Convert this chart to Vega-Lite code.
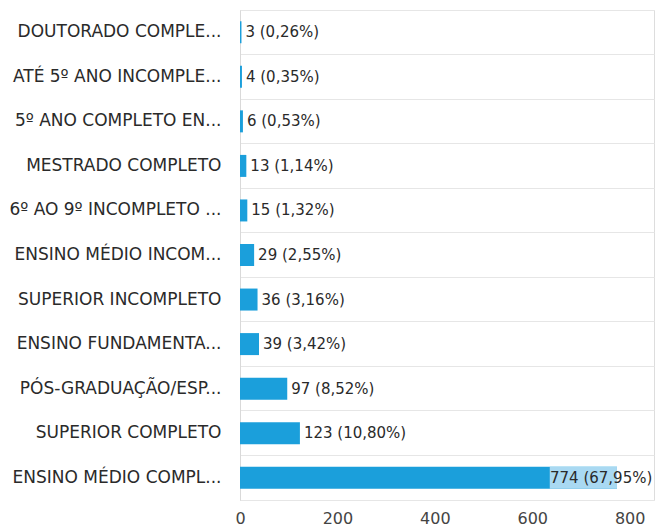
{
  "$schema": "https://vega.github.io/schema/vega-lite/v6.json",
  "autosize": "none",
  "width": 414,
  "height": 490,
  "padding": {"left": 240, "top": 10, "right": 7, "bottom": 31},
  "background": "white",
  "data": {
    "values": [
      {"cat": "DOUTORADO COMPLE...", "value": 3, "label": "3 (0,26%)"},
      {"cat": "ATÉ 5º ANO INCOMPLE...", "value": 4, "label": "4 (0,35%)"},
      {"cat": "5º ANO COMPLETO EN...", "value": 6, "label": "6 (0,53%)"},
      {"cat": "MESTRADO COMPLETO", "value": 13, "label": "13 (1,14%)"},
      {"cat": "6º AO 9º INCOMPLETO ...", "value": 15, "label": "15 (1,32%)"},
      {"cat": "ENSINO MÉDIO INCOM...", "value": 29, "label": "29 (2,55%)"},
      {"cat": "SUPERIOR INCOMPLETO", "value": 36, "label": "36 (3,16%)"},
      {"cat": "ENSINO FUNDAMENTA...", "value": 39, "label": "39 (3,42%)"},
      {"cat": "PÓS-GRADUAÇÃO/ESP...", "value": 97, "label": "97 (8,52%)"},
      {"cat": "SUPERIOR COMPLETO", "value": 123, "label": "123 (10,80%)"},
      {"cat": "ENSINO MÉDIO COMPL...", "value": 774, "label": "774 (67,95%)"}
    ]
  },
  "encoding": {
    "y": {
      "field": "cat", "type": "nominal", "sort": null,
      "scale": {"paddingInner": 0, "paddingOuter": 0},
      "axis": {
        "title": null, "ticks": false, "labelPadding": 19,
        "labelFont": "DejaVu Sans", "labelFontSize": 17, "labelColor": "#2a2a2a",
        "labelLimit": 300,
        "domainColor": "#d9d9d9", "grid": true, "gridColor": "#e6e6e6", "bandPosition": 0
      }
    }
  },
  "layer": [
    {
      "mark": {"type": "bar", "size": 22, "color": "#1b9fdb"},
      "encoding": {
        "x": {
          "field": "value", "type": "quantitative",
          "scale": {"domain": [0, 850], "nice": false},
          "axis": {
            "title": null, "values": [0, 200, 400, 600, 800], "ticks": false, "grid": false,
            "domainColor": "#e6e6e6", "labelPadding": 10, "labelFlush": false,
            "labelFont": "DejaVu Sans", "labelFontSize": 16, "labelColor": "#444444"
          }
        }
      }
    },
    {
      "transform": [{"filter": "datum.value > 700"}],
      "mark": {"type": "bar", "size": 22, "color": "#a9d9f2"},
      "encoding": {
        "x": {"field": "value", "type": "quantitative"},
        "x2": {"datum": 636}
      }
    },
    {
      "transform": [{"filter": "datum.value < 700"}],
      "mark": {"type": "text", "align": "left", "dx": 4, "font": "DejaVu Sans", "fontSize": 15, "color": "#2a2a2a"},
      "encoding": {
        "x": {"field": "value", "type": "quantitative"},
        "text": {"field": "label"}
      }
    },
    {
      "transform": [{"filter": "datum.value > 700"}],
      "mark": {"type": "text", "align": "left", "dx": -67, "font": "DejaVu Sans", "fontSize": 15, "color": "#2a2a2a"},
      "encoding": {
        "x": {"field": "value", "type": "quantitative"},
        "text": {"field": "label"}
      }
    }
  ]
}
